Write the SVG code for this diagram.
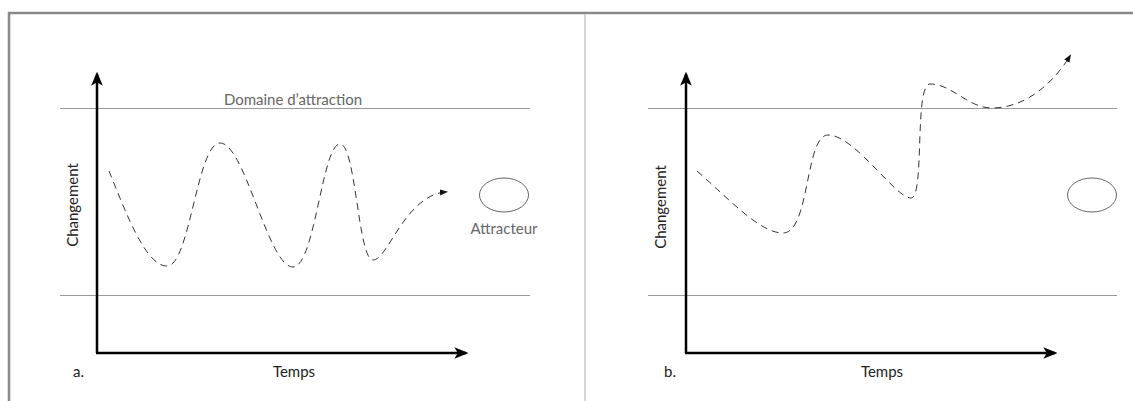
<svg xmlns="http://www.w3.org/2000/svg" width="1133" height="401" viewBox="0 0 1133 401">
<defs>
<style>
.frame{stroke:#8a8a8a;stroke-width:2.5;fill:none}
.divider{stroke:#c8c8c8;stroke-width:1.5;fill:none}
.band{stroke:#999;stroke-width:1;fill:none}
.axis{stroke:#000;stroke-width:2.5;fill:none}
.wave{stroke:#333;stroke-width:1;fill:none;stroke-dasharray:7 5}
.attr{stroke:#666;stroke-width:1;fill:#fff}
.t{font-family:"Lato","Open Sans",sans-serif;font-size:15px;fill:#222}
.g{fill:#666}
</style>
<marker id="ax" markerUnits="userSpaceOnUse" markerWidth="14" markerHeight="12" refX="10" refY="5" orient="auto" viewBox="0 0 12 10">
<path d="M0,0 L12,5 L0,10 L3,5 Z" fill="#000"/>
</marker>
<marker id="wa" markerUnits="userSpaceOnUse" markerWidth="8" markerHeight="7" refX="6" refY="3" orient="auto" viewBox="0 0 8 6">
<path d="M0,0 L8,3 L0,6 Z" fill="#111"/>
</marker>
</defs>
<rect width="1133" height="401" fill="#fff"/>
<g id="frame">
<path class="frame" d="M9,401 V13 H1133"/>
<path class="divider" d="M585,14 V401"/>
</g>
<g id="panel-a">
<g id="band-a">
<line class="band" x1="60" y1="108.5" x2="530" y2="108.5"/>
<line class="band" x1="60" y1="295.5" x2="530" y2="295.5"/>
</g>
<text class="t g" x="293" y="105" text-anchor="middle">Domaine d’attraction</text>
<g id="attracteur-a">
<ellipse class="attr" cx="504" cy="195" rx="24.5" ry="17"/>
<text class="t g" x="504" y="234" text-anchor="middle">Attracteur</text>
</g>
<text class="t" transform="translate(78,205) rotate(-90)" text-anchor="middle">Changement</text>
<text class="t" x="73" y="377">a.</text>
<text class="t" x="294" y="377" text-anchor="middle">Temps</text>
</g>
<g id="panel-b">
<g id="band-b">
<line class="band" x1="648" y1="108.5" x2="1117" y2="108.5"/>
<line class="band" x1="648" y1="295.5" x2="1117" y2="295.5"/>
</g>
<g id="attracteur-b">
<ellipse class="attr" cx="1092" cy="195" rx="24.5" ry="17"/>
</g>
<text class="t" transform="translate(666,207) rotate(-90)" text-anchor="middle">Changement</text>
<text class="t" x="664" y="377">b.</text>
<text class="t" x="882" y="377" text-anchor="middle">Temps</text>
</g>
<g id="connectors">
<path class="axis" d="M97,353 V74" marker-end="url(#ax)"/>
<path class="axis" d="M96,353 H466" marker-end="url(#ax)"/>
<path class="axis" d="M686,353 V74" marker-end="url(#ax)"/>
<path class="axis" d="M685,353 H1055" marker-end="url(#ax)"/>
<path class="wave" d="M109,171 C125,210 145,266 167,266 C190,266 197,143 220,143 C245,143 268,267 293,267 C315,267 322,144 340,144 C356,144 358,260 373,260 C388,260 405,195 446,192" marker-end="url(#wa)"/>
<path class="wave" d="M697,171 C730,200 760,233 783,233 C810,233 805,135 828,135 C855,135 895,198 911,198 C925,198 914,84 930,84 C952,84 968,108 992,108 C1022,108 1050,88 1070,56" marker-end="url(#wa)"/>
</g>
</svg>
